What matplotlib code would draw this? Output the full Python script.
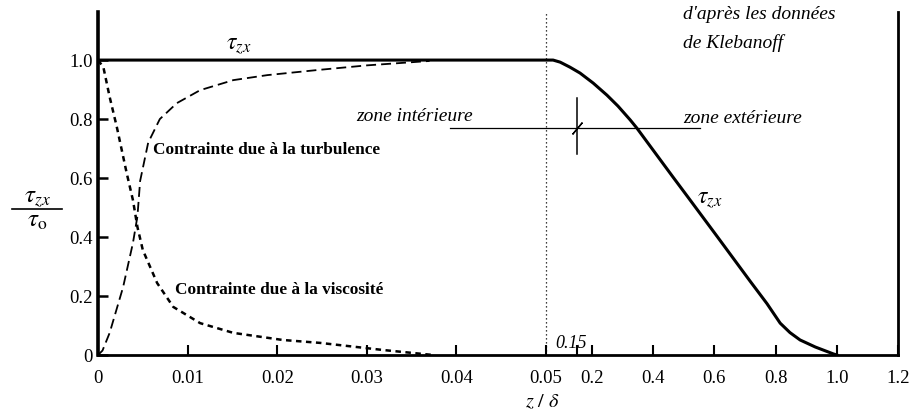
import numpy as np
import matplotlib as mpl
mpl.use("Agg")
import matplotlib.pyplot as plt
from matplotlib.lines import Line2D

mpl.rcParams.update({
    "font.family": ["Liberation Serif", "DejaVu Serif"],
    "mathtext.fontset": "stix",
    "font.size": 13,
})

# data (Klebanoff)
z_visc = [0, 0.0006, 0.0013, 0.0021, 0.0032, 0.0039, 0.0044, 0.005, 0.0066,
          0.0084, 0.0114, 0.0151, 0.0206, 0.0248, 0.0318, 0.0374]
visc = [1.0, 0.976, 0.875, 0.773, 0.617, 0.525, 0.434, 0.356, 0.244,
        0.163, 0.108, 0.075, 0.051, 0.041, 0.017, 0.0]

z_turb = [0, 0.0005, 0.0013, 0.0028, 0.0039, 0.0044, 0.0047, 0.0056, 0.0069,
          0.0088, 0.0114, 0.0151, 0.0189, 0.0244, 0.030, 0.037]
turb = [0, 0.015, 0.075, 0.23, 0.38, 0.47, 0.59, 0.72, 0.80,
        0.854, 0.898, 0.932, 0.949, 0.966, 0.982, 0.997]

z_tau = [0, 0.05, 0.073, 0.096, 0.128, 0.161, 0.204, 0.249, 0.285, 0.325,
         0.347, 0.465, 0.511, 0.609, 0.717, 0.772, 0.815, 0.847, 0.88,
         0.93, 0.988, 1.0]
tau = [1.0, 1.0, 1.0, 0.993, 0.976, 0.956, 0.922, 0.881, 0.844, 0.797,
       0.769, 0.603, 0.539, 0.402, 0.25, 0.174, 0.108, 0.076, 0.051,
       0.027, 0.004, 0.0]

xticks = [0, 0.01, 0.02, 0.03, 0.04, 0.05, 0.15, 0.2, 0.4, 0.6, 0.8, 1.0, 1.2]
xticklabels = ['0', '0.01', '0.02', '0.03', '0.04', '0.05', '', '0.2',
               '0.4', '0.6', '0.8', '1.0', '1.2']
yticks = [0, 0.2, 0.4, 0.6, 0.8, 1.0]
yticklabels = ['0', '0.2', '0.4', '0.6', '0.8', '1.0']

z_break = 0.05
z_zone = 0.15
y_zone = 0.77

# broken axis: 0..0.05 stretched, then 0.05..1.2 compressed
ratio = 306. / 448.

def fwd(x):
    x = np.asarray(x, dtype=float)
    return np.where(x <= z_break, x / z_break, 1 + (x - z_break) * ratio)

def inv(u):
    u = np.asarray(u, dtype=float)
    return np.where(u <= 1, u * z_break, z_break + (u - 1) / ratio)

fig = plt.figure(figsize=(9.11, 4.12), dpi=100)
ax = fig.add_axes([98/911, 57/412, 800/911, 343/412])
ax.set_xscale('function', functions=(fwd, inv))

ax.plot(z_tau, tau, color='black', lw=2.2, solid_joinstyle='round')
ax.plot(z_turb, turb, color='black', lw=1.3, dashes=(5.5, 2.8))
ax.plot(z_visc, visc, color='black', lw=1.8, dashes=(2.2, 1.8))

ax.axvline(z_break, color='black', lw=0.9, dashes=(1, 2.2))

# zone markers
ax.plot([0.0393, 0.553], [y_zone, y_zone], color='black', lw=0.9)
ax.plot([z_zone, z_zone], [0.681, 0.871], color='black', lw=1.1)
ax.plot([z_zone], [y_zone], marker=(2, 2, -40), color='black', ms=11, mew=1.0)

ax.set_xlim(0, 1.2)
ax.set_ylim(0, 1.163)
ax.set_xticks(xticks)
ax.set_xticklabels(xticklabels)
ax.set_yticks(yticks)
ax.set_yticklabels(yticklabels)
ax.minorticks_off()

ax.spines['top'].set_visible(False)
ax.spines['left'].set_linewidth(2.6)
ax.spines['bottom'].set_linewidth(2.0)
ax.spines['right'].set_linewidth(2.0)
ax.xaxis.set_tick_params(direction='in', length=7, width=1.5, pad=11, labelsize=13.5)
ax.yaxis.set_tick_params(direction='in', length=7, width=1.8, pad=4, labelsize=13.5)
ax.yaxis.set_ticks_position('left')
ax.xaxis.set_ticks_position('bottom')

# annotations
ax.text(0.0157, 1.047, r'$\tau_{zx}$', fontsize=17, ha='center', va='center')
ax.text(0.586, 0.525, r'$\tau_{zx}$', fontsize=17, ha='center', va='center')
ax.text(0.00614, 0.695, 'Contrainte due à la turbulence', fontsize=12.4,
        fontweight='bold', ha='left', va='center')
ax.text(0.0086, 0.22, 'Contrainte due à la viscosité', fontsize=12.4,
        fontweight='bold', ha='left', va='center')
ax.text(0.0353, 0.81, 'zone intérieure', fontsize=14, style='italic',
        ha='center', va='center')
ax.text(0.498, 0.803, 'zone extérieure', fontsize=14, style='italic',
        ha='left', va='center')
ax.text(0.498, 1.153, "d'après les données", fontsize=14, style='italic',
        ha='left', va='center')
ax.text(0.498, 1.058, 'de Klebanoff', fontsize=14, style='italic',
        ha='left', va='center')
ax.text(0.0794, 0.04, '0.15', fontsize=13, style='italic',
        ha='left', va='center')

# y label as a fraction
fig.text(37/911, 1 - 199/412, r'$\tau_{zx}$', fontsize=18, ha='center', va='center')
fig.text(37/911, 1 - 221/412, r'$\tau_{\rm o}$', fontsize=18, ha='center', va='center')
fig.add_artist(Line2D([12/911, 62/911], [1 - 209/412, 1 - 209/412],
                      transform=fig.transFigure, color='black', lw=1.2))
fig.text(542/911, 1 - 403/412, r'$z\ /\ \delta$', fontsize=14.5, ha='center', va='center')

fig.savefig('out.png', dpi=100)
